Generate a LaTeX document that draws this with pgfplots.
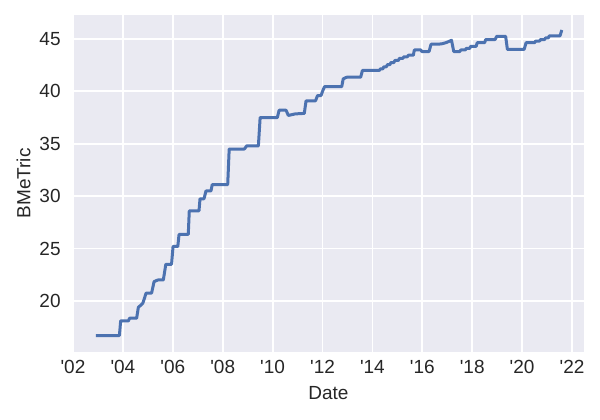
\documentclass[border=0pt]{standalone}
\usepackage{pgfplots}
\pgfplotsset{compat=1.18}
\usepackage{fontspec}
\setmainfont{Liberation Sans}
\usetikzlibrary{calc}
\definecolor{bg}{HTML}{EAEAF2}
\definecolor{sbblue}{HTML}{4C72B0}
\definecolor{txt}{HTML}{262626}
\begin{document}
\begin{tikzpicture}
\begin{axis}[
  scale only axis, width=255.5pt, height=168.5pt,
  xmin=2002, xmax=2022.48, ymin=15.13, ymax=47.29,
  axis background/.style={fill=bg},
  axis line style={draw=none},
  major tick length=0pt,
  grid=major, major grid style={white, line width=0.9pt},
  xtick={2002,2004,2006,2008,2010,2012,2014,2016,2018,2020,2022},
  xticklabels={\textquotesingle 02,\textquotesingle 04,\textquotesingle 06,\textquotesingle 08,\textquotesingle 10,\textquotesingle 12,\textquotesingle 14,\textquotesingle 16,\textquotesingle 18,\textquotesingle 20,\textquotesingle 22},
  ytick={20,25,30,35,40,45},
  tick label style={font=\fontsize{9.5}{11}\selectfont, text=txt},
  yticklabel style={anchor=east, inner sep=0pt, xshift=-6pt},
  xticklabel style={anchor=north, inner sep=0pt, yshift=-4pt},
  /pgf/number format/assume math mode=true,
  xlabel={Date}, ylabel={BMeTric},
  label style={font=\fontsize{9.5}{11}\selectfont, text=txt},
  xlabel style={at={(axis description cs:0.5,0)}, anchor=center, inner sep=0pt, yshift=-20.5pt},
  ylabel style={at={(axis description cs:0,0.5)}, anchor=center, inner sep=0pt, yshift=24.7pt},
]
\addplot[sbblue, line width=1.5pt, line join=round] table {
x y
2002.92 16.70
2003.86 16.70
2003.91 18.10
2004.22 18.10
2004.27 18.35
2004.55 18.35
2004.62 19.40
2004.72 19.60
2004.80 19.80
2004.93 20.75
2005.15 20.75
2005.25 21.85
2005.40 22.00
2005.62 22.00
2005.72 23.50
2005.95 23.50
2006.01 25.20
2006.20 25.20
2006.25 26.35
2006.62 26.35
2006.66 28.60
2007.05 28.60
2007.09 29.75
2007.25 29.75
2007.33 30.50
2007.53 30.50
2007.58 31.10
2008.20 31.10
2008.26 34.50
2008.87 34.50
2008.96 34.80
2009.43 34.80
2009.50 37.50
2010.19 37.50
2010.26 38.20
2010.54 38.20
2010.63 37.70
2010.90 37.85
2011.27 37.90
2011.34 39.10
2011.72 39.10
2011.80 39.60
2011.94 39.60
2012.00 40.00
2012.08 40.45
2012.77 40.45
2012.83 41.20
2012.97 41.35
2013.53 41.35
2013.60 42.00
2014.28 42.00
2014.32 42.15
2014.42 42.15
2014.46 42.35
2014.56 42.35
2014.60 42.55
2014.70 42.55
2014.74 42.75
2014.86 42.75
2014.90 42.95
2015.04 42.95
2015.08 43.15
2015.22 43.15
2015.26 43.30
2015.40 43.30
2015.44 43.45
2015.64 43.45
2015.68 43.95
2015.94 43.95
2015.98 43.80
2016.27 43.80
2016.35 44.50
2016.64 44.50
2016.80 44.55
2016.95 44.65
2017.10 44.80
2017.17 44.88
2017.26 43.80
2017.50 43.80
2017.54 43.95
2017.72 43.95
2017.76 44.10
2017.90 44.10
2017.94 44.30
2018.16 44.30
2018.20 44.65
2018.50 44.65
2018.54 44.95
2018.92 44.95
2018.98 45.25
2019.34 45.25
2019.41 44.00
2020.08 44.00
2020.16 44.65
2020.50 44.65
2020.54 44.80
2020.70 44.80
2020.74 44.95
2020.90 44.95
2020.94 45.10
2021.05 45.10
2021.09 45.30
2021.52 45.30
2021.59 45.86
};
\end{axis}
\pgfresetboundingbox
\path ($(current axis.south west)+(-36.5pt,-34pt)$) rectangle ($(current axis.north east)+(8pt,7.5pt)$);
\end{tikzpicture}
\end{document}
